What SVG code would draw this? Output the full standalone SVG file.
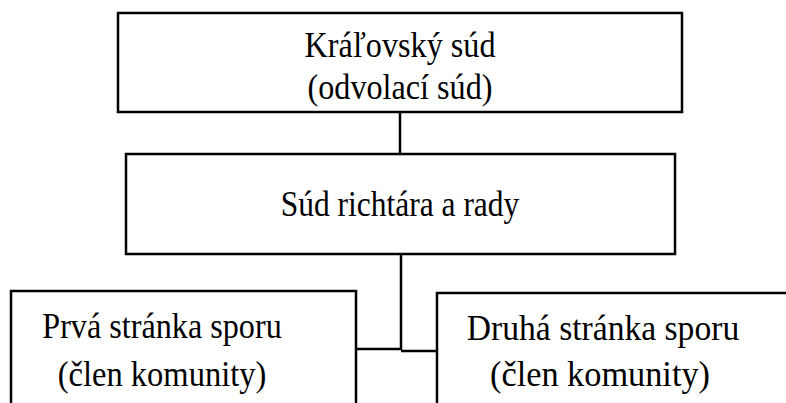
<svg xmlns="http://www.w3.org/2000/svg" width="786" height="403" viewBox="0 0 786 403">
<style>
.box{fill:#fff;stroke:#000;stroke-width:2.5}
.t{font-family:"Liberation Serif","Times New Roman",serif;font-size:35px;fill:#000;text-anchor:middle}
.c{fill:none;stroke:#000;stroke-width:2.5}
</style>
<g id="connectors">
<path class="c" d="M400,112 V154"/>
<path class="c" d="M401,254 V350 M356,349 H401 M401,351 H437"/>
</g>
<g id="kralovsky">
<rect class="box" x="118" y="13" width="564" height="99"/>
<text class="t" transform="translate(400,57) scale(0.92,1)">Kráľovský súd</text>
<text class="t" transform="translate(400,99) scale(0.92,1)">(odvolací súd)</text>
</g>
<g id="rychtar">
<rect class="box" x="126" y="154" width="549" height="100"/>
<text class="t" transform="translate(400,216) scale(0.9,1)">Súd richtára a rady</text>
</g>
<g id="prva">
<rect class="box" x="11" y="291" width="345" height="130"/>
<text class="t" transform="translate(162,338) scale(0.92,1)">Prvá stránka sporu</text>
<text class="t" transform="translate(162,386) scale(0.93,1)">(člen komunity)</text>
</g>
<g id="druha">
<rect class="box" x="437" y="293" width="360" height="130"/>
<text class="t" transform="translate(603,340) scale(0.96,1)">Druhá stránka sporu</text>
<text class="t" transform="translate(600,386) scale(0.98,1)">(člen komunity)</text>
</g>
</svg>
